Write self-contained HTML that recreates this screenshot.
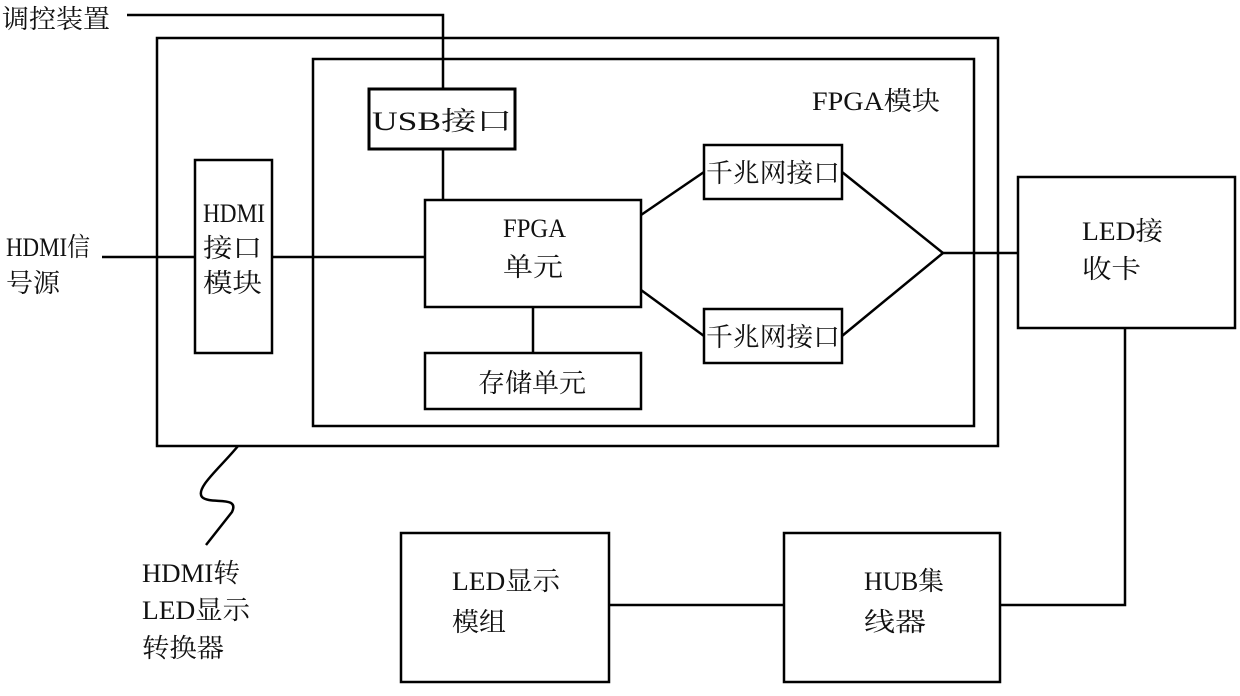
<!DOCTYPE html>
<html><head><meta charset="utf-8"><style>
body{margin:0;background:#fff;width:1240px;height:691px;overflow:hidden}
svg text{font-family:"Liberation Serif","Noto Serif CJK SC",serif;font-size:26px;fill:#111}
</style></head><body>
<svg width="1240" height="691" viewBox="0 0 1240 691" xmlns="http://www.w3.org/2000/svg">
<g fill="none" stroke="#000" stroke-width="2.5">
<rect x="157" y="38" width="841" height="408"/>
<rect x="313" y="59" width="661" height="367"/>
<rect x="369" y="89" width="146" height="60" stroke-width="3"/>
<rect x="195" y="160" width="77" height="193"/>
<rect x="425" y="200" width="216" height="107"/>
<rect x="425" y="353" width="216" height="56"/>
<rect x="704" y="145" width="138" height="54"/>
<rect x="704" y="309" width="138" height="54"/>
<rect x="1018" y="177" width="217" height="151"/>
<rect x="401" y="533" width="208" height="149"/>
<rect x="784" y="533" width="216" height="149"/>
<polyline points="127,15 443,15 443,89"/>
<line x1="443" y1="149" x2="443" y2="200"/>
<line x1="102" y1="257" x2="195" y2="257"/>
<line x1="272" y1="257" x2="425" y2="257"/>
<line x1="533" y1="307" x2="533" y2="353"/>
<polyline points="641,215 704,172"/>
<polyline points="641,290 704,336"/>
<polyline points="842,172 943,253 842,336"/>
<line x1="943" y1="253" x2="1018" y2="253"/>
<polyline points="1125,328 1125,605 1000,605"/>
<line x1="609" y1="605" x2="784" y2="605"/>
<path d="M238,446 C220,468 195,488 202,497 C210,505 240,495 232,512 L206,545"/>
</g>
<g lengthAdjust="spacingAndGlyphs">
<text x="2" y="28" textLength="108" lengthAdjust="spacingAndGlyphs">调控装置</text>
<text x="812" y="110" textLength="128" lengthAdjust="spacingAndGlyphs">FPGA模块</text>
<text x="372" y="130" textLength="140" lengthAdjust="spacingAndGlyphs">USB接口</text>
<text x="203" y="222" textLength="62" lengthAdjust="spacingAndGlyphs">HDMI</text>
<text x="203" y="257" textLength="59" lengthAdjust="spacingAndGlyphs">接口</text>
<text x="203" y="292" textLength="59" lengthAdjust="spacingAndGlyphs">模块</text>
<text x="6" y="256" textLength="84" lengthAdjust="spacingAndGlyphs">HDMI信</text>
<text x="6" y="292" textLength="54" lengthAdjust="spacingAndGlyphs">号源</text>
<text x="503" y="237" textLength="63" lengthAdjust="spacingAndGlyphs">FPGA</text>
<text x="503" y="276" textLength="60" lengthAdjust="spacingAndGlyphs">单元</text>
<text x="478" y="392" textLength="108" lengthAdjust="spacingAndGlyphs">存储单元</text>
<text x="706" y="182" textLength="134" lengthAdjust="spacingAndGlyphs">千兆网接口</text>
<text x="706" y="346" textLength="134" lengthAdjust="spacingAndGlyphs">千兆网接口</text>
<text x="1082" y="240" textLength="81" lengthAdjust="spacingAndGlyphs">LED接</text>
<text x="1082" y="278" textLength="59" lengthAdjust="spacingAndGlyphs">收卡</text>
<text x="452" y="590" textLength="108" lengthAdjust="spacingAndGlyphs">LED显示</text>
<text x="452" y="631" textLength="54" lengthAdjust="spacingAndGlyphs">模组</text>
<text x="864" y="590" textLength="80" lengthAdjust="spacingAndGlyphs">HUB集</text>
<text x="864" y="631" textLength="62" lengthAdjust="spacingAndGlyphs">线器</text>
<text x="142" y="582" textLength="98" lengthAdjust="spacingAndGlyphs">HDMI转</text>
<text x="142" y="619" textLength="108" lengthAdjust="spacingAndGlyphs">LED显示</text>
<text x="142" y="657" textLength="82" lengthAdjust="spacingAndGlyphs">转换器</text>
</g>
</svg>
</body></html>
